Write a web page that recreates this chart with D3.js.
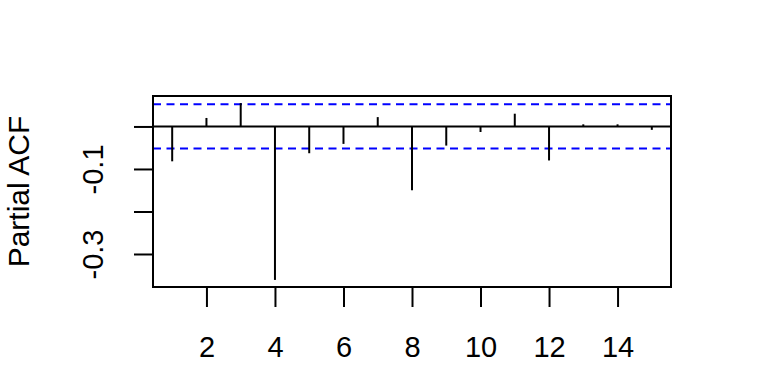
<!DOCTYPE html>
<html>
<head>
<meta charset="utf-8">
<script src="https://cdn.jsdelivr.net/npm/d3@7"></script>
<style>
  body { margin: 0; background: #fff; }
  svg text { font-family: "Liberation Sans", Arial, sans-serif; }
</style>
</head>
<body>
<svg width="768" height="384"></svg>
<script>
  // lags and partial autocorrelations
  var lags = [1, 2, 3, 4, 5, 6, 7, 8, 9, 10, 11, 12, 13, 14, 15];
  var pacf = [-0.082, 0.020, 0.055, -0.361, -0.063, -0.041, 0.022, -0.150,
              -0.045, -0.013, 0.030, -0.080, 0.005, 0.005, -0.008];
  var clim = 0.052;
  var xTicks = [2, 4, 6, 8, 10, 12, 14];
  var yTicks = [-0.3, -0.2, -0.1, 0.0];
  var yLabels = {"-0.3": "-0.3", "-0.1": "-0.1"};

  var svg = d3.select('svg');
  var pLeft = 153, pRight = 671, pTop = 96, pBottom = 287;
  var fs = 29;

  // R style 4% padding on both axes
  var xr = d3.extent(lags), xp = (xr[1] - xr[0]) * 0.04;
  var ylo = Math.min(d3.min(pacf), -clim), yhi = Math.max(d3.max(pacf), clim);
  var yp = (yhi - ylo) * 0.04;

  var x = d3.scaleLinear().domain([xr[0] - xp, xr[1] + xp]).range([pLeft, pRight]);
  var y = d3.scaleLinear().domain([ylo - yp, yhi + yp]).range([pBottom, pTop]);

  // zero line
  svg.append("line")
    .attr("x1", pLeft).attr("x2", pRight)
    .attr("y1", y(0)).attr("y2", y(0))
    .attr("stroke", "#000").attr("stroke-width", 2);

  // confidence bounds
  svg.selectAll("line.ci").data([clim, -clim]).enter().append("line")
    .attr("class", "ci")
    .attr("x1", pLeft).attr("x2", pRight)
    .attr("y1", function(d){ return y(d); })
    .attr("y2", function(d){ return y(d); })
    .attr("stroke", "#0000ff").attr("stroke-width", 2)
    .attr("stroke-dasharray", "8,5.5");

  // spikes
  svg.selectAll("line.spike").data(pacf).enter().append("line")
    .attr("class", "spike")
    .attr("x1", function(d, i){ return x(lags[i]); })
    .attr("x2", function(d, i){ return x(lags[i]); })
    .attr("y1", y(0))
    .attr("y2", function(d){ return y(d); })
    .attr("stroke", "#000").attr("stroke-width", 2);

  // box
  svg.append("rect")
    .attr("x", pLeft).attr("y", pTop)
    .attr("width", pRight - pLeft).attr("height", pBottom - pTop)
    .attr("fill", "none").attr("stroke", "#000").attr("stroke-width", 2);

  var xAxis = svg.append("g")
    .attr("transform", "translate(0," + pBottom + ")")
    .call(d3.axisBottom(x).tickValues(xTicks).tickSize(20).tickFormat(d3.format("d")));
  xAxis.select(".domain").remove();
  xAxis.selectAll(".tick line").attr("stroke-width", 2);
  xAxis.selectAll(".tick text")
    .attr("y", 70).attr("dy", 0)
    .style("font-size", fs + "px").attr("fill", "#000");

  // R drops the labels that would overlap, only -0.3 and -0.1 are printed
  var yAxis = svg.append("g")
    .attr("transform", "translate(" + pLeft + ",0)")
    .call(d3.axisLeft(y).tickValues(yTicks).tickSize(19)
      .tickFormat(function(d){ return yLabels[d.toFixed(1)] || ""; }));
  yAxis.select(".domain").remove();
  yAxis.selectAll(".tick line").attr("stroke-width", 2);
  yAxis.selectAll(".tick text")
    .attr("transform", "rotate(-90)")
    .attr("x", 0).attr("y", -50).attr("dy", 0)
    .style("text-anchor", "middle")
    .style("font-size", fs + "px").attr("fill", "#000");

  svg.append("text")
    .attr("transform", "translate(29," + (pTop + pBottom) / 2 + ") rotate(-90)")
    .attr("text-anchor", "middle")
    .style("font-size", "30px")
    .text("Partial ACF");
</script>
</body>
</html>
